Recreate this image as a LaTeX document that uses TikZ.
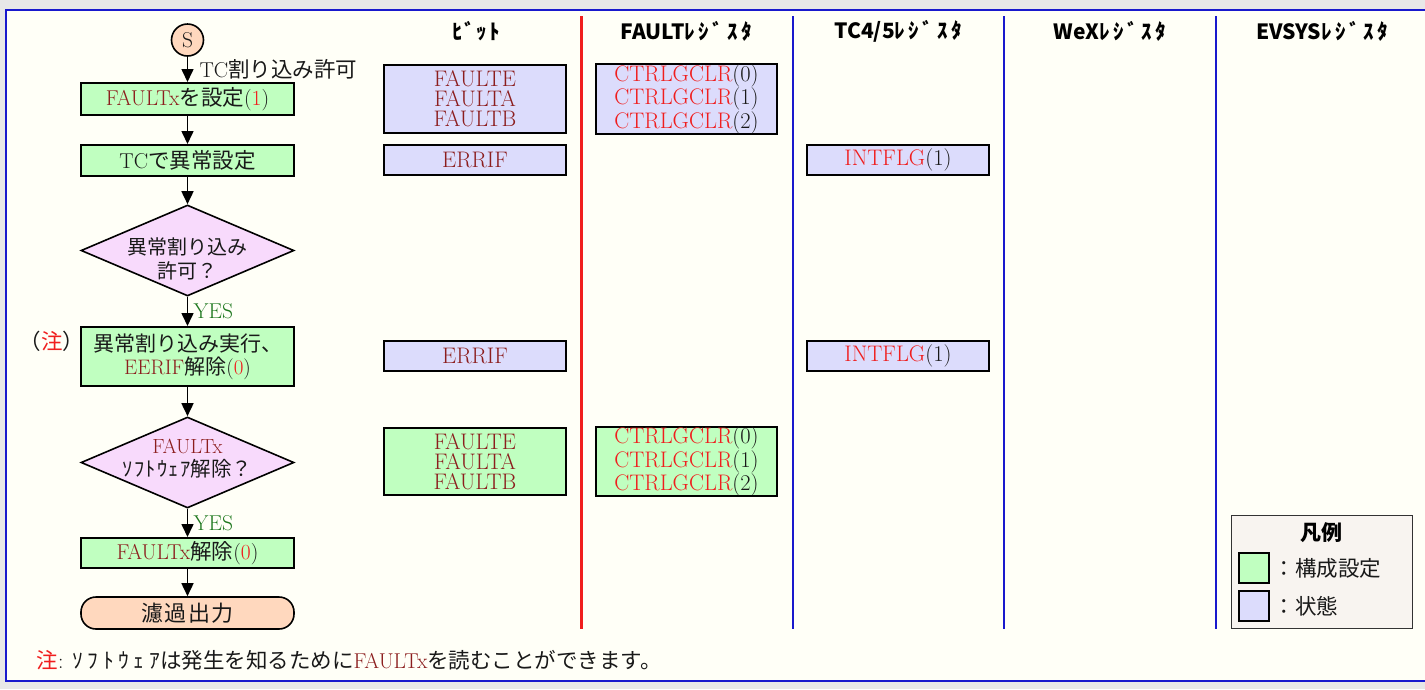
\documentclass[tikz,border=0pt]{standalone}
\usepackage{fontspec}
\usetikzlibrary{arrows.meta,shapes.geometric}
\newfontfamily\cjk{Noto Sans CJK JP}
\definecolor{dred}{RGB}{140,30,30}
\definecolor{bred}{RGB}{240,30,30}
\definecolor{yesg}{RGB}{30,120,30}
\definecolor{gfill}{RGB}{192,255,192}
\definecolor{lfill}{RGB}{220,220,252}
\definecolor{pfill}{RGB}{248,218,252}
\definecolor{peach}{RGB}{255,216,190}
\definecolor{bgc}{RGB}{255,255,247}
\definecolor{outerc}{RGB}{232,232,232}
\definecolor{frameb}{RGB}{25,25,205}
\definecolor{legfill}{RGB}{248,244,240}
\definecolor{txt}{RGB}{25,25,25}
\newcommand\J[1]{{\cjk #1}}
\newcommand\R[1]{\textcolor{dred}{#1}}
\newcommand\Rr[1]{\textcolor{bred}{#1}}
\newcommand\hw[2]{{\addfontfeature{LetterSpace=#1}#2}}
\tikzset{
  base/.style={font=\fontsize{21.5}{20}\selectfont, text=txt},
  proc/.style={base, draw=black, line width=2pt, fill=gfill, minimum width=213pt, inner sep=0pt, align=center},
  statbox/.style={base, font=\fontsize{22.5}{20}\selectfont, draw=black, line width=2pt, fill=lfill, minimum width=182pt, inner sep=0pt, align=center},
  cfgbox/.style={statbox, fill=gfill},
  dec/.style={diamond, draw=black, line width=1.6pt, fill=pfill, minimum width=213pt, minimum height=91pt, inner sep=0pt},
  arr/.style={-{Triangle[length=13pt,width=12pt]}, line width=1.6pt},
  hdr/.style={font=\cjk\bfseries\fontsize{21}{20}\selectfont, text=black},
  redline/.style={draw=bred, line width=3pt},
  blueline/.style={draw=frameb, line width=1.5pt}
}
\begin{document}
\begin{tikzpicture}[x=1pt,y=-1pt]
\useasboundingbox (0,0) rectangle (1425,689);
\clip (0,0) rectangle (1425,689);
\fill[outerc] (0,0) rectangle (1425,689);
\draw[frameb, line width=2pt, fill=bgc] (6,10) rectangle (1445,681);

% column separators
\coordinate (r1) at (581,16); \coordinate (r2) at (581,629);
\coordinate (b1t) at (793,16); \coordinate (b1b) at (793,629);
\coordinate (b2t) at (1004,16); \coordinate (b2b) at (1004,629);
\coordinate (b3t) at (1216,16); \coordinate (b3b) at (1216,629);
\draw[redline] (r1) -- (r2);
\draw[blueline] (b1t) -- (b1b);
\draw[blueline] (b2t) -- (b2b);
\draw[blueline] (b3t) -- (b3b);

% headers
\node[hdr] (h1) at (476,31) {\hw{8}{ﾋﾞｯﾄ}};
\node[hdr] (h2) at (686,31) {FAULT\hw{17}{ﾚｼﾞｽﾀ}};
\node[hdr] (h3) at (898,31) {TC4/5\hw{17}{ﾚｼﾞｽﾀ}};
\node[hdr] (h4) at (1110,31) {WeX\hw{17}{ﾚｼﾞｽﾀ}};
\node[hdr] (h5) at (1322,31) {EVSYS\hw{17}{ﾚｼﾞｽﾀ}};

% flowchart
\node[circle, draw=black, line width=1.6pt, fill=peach, minimum size=32pt, inner sep=0pt, base] (S) at (187.5,40) {S};
\node[proc, minimum height=32pt] (p1) at (187.5,99) {\R{FAULTx}\J{を設定}(\Rr{1})};
\node[proc, minimum height=31pt] (p2) at (187.5,160.5) {TC\J{で異常設定}};
\node[dec] (d1) at (187.5,250.5) {};
\node[base, align=center, font=\fontsize{20}{24}\selectfont] (d1t) at (187.5,259) {\J{異常割り込み}\\\J{許可？}};
\node[proc, minimum height=59pt, font=\fontsize{21}{23}\selectfont] (p3) at (187.5,356.5) {\J{異常割り込み実行、}\\\R{EERIF}\J{解除}(\Rr{0})};
\node[base] (note1) at (52,341) {\J{（\textcolor{bred}{注}）}};
\node[dec] (d2) at (187.5,462.5) {};
\node[base, align=center, font=\fontsize{20.5}{23}\selectfont] (d2t) at (187.5,459) {\R{FAULTx}\\\J{\hw{6}{ｿﾌﾄｳｪｱ}解除？}};
\node[proc, minimum height=30pt] (p4) at (187.5,553) {\R{FAULTx}\J{解除}(\Rr{0})};
\node[base, draw=black, line width=1.6pt, fill=peach, rounded corners=15pt, minimum width=213pt, minimum height=32pt, inner sep=0pt] (t) at (187.5,613) {\J{\fontsize{22}{22}\selectfont\addfontfeature{LetterSpace=6}濾過出力}};

\draw[arr] (S) -- node[base, anchor=west, xshift=8pt] (lab1) {TC\J{割り込み許可}} (p1);
\draw[arr] (p1) -- (p2);
\draw[arr] (p2) -- (d1);
\draw[arr] (d1) -- node[base, anchor=west, xshift=2pt, text=yesg] (yes1) {YES} (p3);
\draw[arr] (p3) -- (d2);
\draw[arr] (d2) -- node[base, anchor=west, xshift=2pt, text=yesg] (yes2) {YES} (p4);
\draw[arr] (p4) -- (t);

% register boxes
\node[statbox, minimum height=68pt] (bit1) at (475,99) {\R{FAULTE}\\\R{FAULTA}\\\R{FAULTB}};
\node[statbox, minimum width=181pt, minimum height=68pt] (flt1) at (686.5,99) {\Rr{CTRLGCLR}(0)\\\Rr{CTRLGCLR}(1)\\\Rr{CTRLGCLR}(2)};
\node[statbox, minimum height=30pt] (bit2) at (475,160) {\R{ERRIF}};
\node[statbox, minimum height=30pt] (tc1) at (898,160) {\Rr{INTFLG}(1)};
\node[statbox, minimum height=30pt] (bit3) at (475,356) {\R{ERRIF}};
\node[statbox, minimum height=30pt] (tc2) at (898,356) {\Rr{INTFLG}(1)};
\node[cfgbox, minimum height=67pt] (bit4) at (475,461.5) {\R{FAULTE}\\\R{FAULTA}\\\R{FAULTB}};
\node[cfgbox, minimum width=181pt, minimum height=67pt] (flt2) at (686.5,461.5) {\Rr{CTRLGCLR}(0)\\\Rr{CTRLGCLR}(1)\\\Rr{CTRLGCLR}(2)};

% legend
\node[draw=black!80, line width=0.8pt, fill=legfill, minimum width=181pt, minimum height=113pt, inner sep=0pt] (leg) at (1321.5,571.5) {};
\node[hdr] (legt) at (1321.5,533) {凡例};
\node[draw=black, line width=2pt, fill=gfill, minimum size=30pt, inner sep=0pt] (lg1) at (1253.5,568) {};
\node[base, anchor=west] (lg1t) at (1270,568) {\J{：構成設定}};
\node[draw=black, line width=2pt, fill=lfill, minimum size=30pt, inner sep=0pt] (lg2) at (1253.5,606) {};
\node[base, anchor=west] (lg2t) at (1270,606) {\J{：状態}};

% bottom note
\node[base, anchor=west] (note) at (33,660) {\J{\textcolor{bred}{注}}: \J{\hw{22}{ｿﾌﾄｳｪｱ}は発生を知るために}\R{FAULTx}\J{を読むことができます。}};
\end{tikzpicture}
\end{document}
